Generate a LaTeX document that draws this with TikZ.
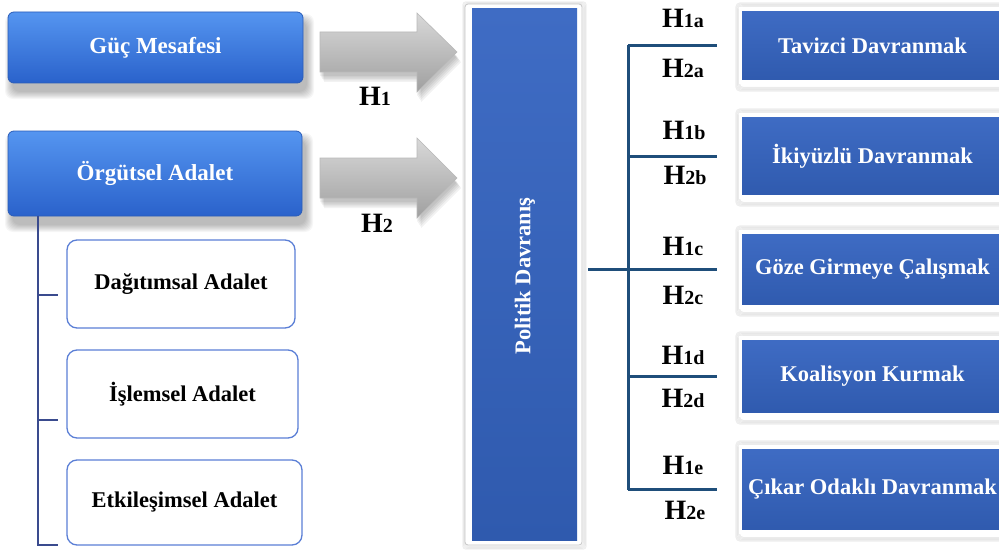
\documentclass[tikz,border=0pt]{standalone}
\usepackage{fontspec}
\setmainfont{Liberation Serif}
\usetikzlibrary{calc}
\definecolor{lbtop}{HTML}{5595F0}
\definecolor{lbbot}{HTML}{2A62CB}
\definecolor{lbedge}{HTML}{2A5CB8}
\definecolor{rbtop}{HTML}{3F6CC4}
\definecolor{rbbot}{HTML}{2F5AAE}
\definecolor{rline}{HTML}{1F4E7A}
\definecolor{lline}{HTML}{3A4B8E}
\definecolor{subedge}{HTML}{5B7FD6}
\newcommand\mysoftshadow[5]{%
  \foreach \k in {0,...,7} {\fill[black, opacity=0.035, rounded corners=#5] ({#1-\k+4},{#2-\k+9}) rectangle ({#3+\k+4},{#4+\k+9});}}
\newcommand\myhyp[1]{{\fontsize{28}{28}\selectfont H}{\fontsize{20}{20}\selectfont #1}}
\tikzset{
  lbox/.style={rounded corners=6pt, top color=lbtop, bottom color=lbbot, draw=lbedge, line width=0.8pt,
    text=white, font=\bfseries\fontsize{23}{23}\selectfont, inner sep=0pt},
  subbox/.style={rounded corners=10pt, fill=white, draw=subedge, line width=1.3pt,
    text=black, font=\bfseries\fontsize{22.5}{22.5}\selectfont, inner sep=0pt},
  rbox/.style={top color=rbtop, bottom color=rbbot, draw=white, line width=3.5pt,
    text=white, font=\bfseries\fontsize{22.5}{22.5}\selectfont, inner sep=0pt, minimum width=264pt},
  hyp/.style={text=black, font=\bfseries, inner sep=0pt},
  rl/.style={draw=rline, line width=3pt},
  ll/.style={draw=lline, line width=1.5pt},
  garrow/.style={top color=gray!30, bottom color=gray!75, draw=gray!55, line width=0.6pt},
}
\begin{document}
\begin{tikzpicture}[x=1pt,y=-1pt]
\useasboundingbox[fill=white] (0,0) rectangle (999,551);
% shadows
\mysoftshadow{8}{12}{303}{83}{8pt}
\mysoftshadow{8}{131}{302}{216}{8pt}
% left boxes
\node[lbox, minimum width=295pt, minimum height=71pt] (guc) at (155.5,47.5) {Güç Mesafesi};
\node[lbox, minimum width=294pt, minimum height=85pt] (org) at (155,173.5) {Örgütsel Adalet};
\node[subbox, minimum width=228pt, minimum height=88pt] (dag) at (181,284) {Dağıtımsal Adalet};
\node[subbox, minimum width=231pt, minimum height=88pt] (isl) at (182.5,394) {İşlemsel Adalet};
\node[subbox, minimum width=235pt, minimum height=85pt] (etk) at (184.5,502.5) {Etkileşimsel Adalet};
% left tree
\coordinate (lt) at (38,216);
\coordinate (l1) at (38,295);
\coordinate (l2) at (38,420);
\coordinate (l3) at (38,545);
\draw[ll] (lt) -- (l3) -- ++(20,0);
\draw[ll] (l1) -- ++(20,0);
\draw[ll] (l2) -- ++(20,0);
% arrows
\foreach \s in {0,0.5,1,1.5,2} {\fill[black, opacity=0.05] ({320+\s*2},{32+\s*3+4}) -- ({417+\s*2},{32+\s*3+4}) -- ({417+\s*2},{13+\s*3+4}) -- ({457+\s*2},{52+\s*3+4}) -- ({417+\s*2},{92+\s*3+4}) -- ({417+\s*2},{72+\s*3+4}) -- ({320+\s*2},{72+\s*3+4}) -- cycle;}
\shade[garrow] (320,32) -- (417,32) -- (417,13) -- (457,52) -- (417,92) -- (417,72) -- (320,72) -- cycle;
\foreach \s in {0,0.5,1,1.5,2} {\fill[black, opacity=0.05] ({320+\s*2},{158+\s*3+4}) -- ({417+\s*2},{158+\s*3+4}) -- ({417+\s*2},{138+\s*3+4}) -- ({457+\s*2},{178+\s*3+4}) -- ({417+\s*2},{218+\s*3+4}) -- ({417+\s*2},{198+\s*3+4}) -- ({320+\s*2},{198+\s*3+4}) -- cycle;}
\shade[garrow] (320,158) -- (417,158) -- (417,138) -- (457,178) -- (417,218) -- (417,198) -- (320,198) -- cycle;
\node[hyp] (h1) at (375,96) {\myhyp{1}};
\node[hyp] (h2) at (377,223) {\myhyp{2}};
% Politik Davranis
\foreach \k in {0,...,4} {\draw[black, opacity=0.06, line width=1pt, rounded corners=3pt] ({465-\k*0.8+1},{4-\k*0.8+1}) rectangle ({582+\k*0.8+1},{545+\k*0.8+1});}
\node[fill=white, draw=gray!45, line width=0.8pt, rounded corners=3pt, minimum width=117pt, minimum height=541pt, inner sep=0pt] (polf) at (523.5,274.5) {};
\node[top color=rbtop, bottom color=rbbot, minimum width=105pt, minimum height=531pt, inner sep=0pt] (pol) at (524.5,274.5) {};
\node[rotate=90, text=white, font=\bfseries\fontsize{22.5}{22.5}\selectfont, inner sep=0pt] (polt) at (525,276) {Politik Davranış};
% right boxes shadows
\foreach \y/\h in {45.5/73, 156/82, 269.5/75, 376.5/77, 489.5/85} {
  \foreach \k in {0,...,4} {\draw[black, opacity=0.07, line width=1pt, rounded corners=4pt] ({738-\k*0.9+1.5},{\y-\h/2-4-\k*0.9+1.5}) rectangle ({1006+\k*0.9},{\y+\h/2+4+\k*0.9+1.5});}
}
\node[rbox, minimum height=73pt] (r1) at (872.5,45.5) {Tavizci Davranmak};
\node[rbox, minimum height=82pt] (r2) at (872.5,156) {İkiyüzlü Davranmak};
\node[rbox, minimum height=75pt] (r3) at (872.5,269.5) {Göze Girmeye Çalışmak};
\node[rbox, minimum height=77pt] (r4) at (872.5,376.5) {Koalisyon Kurmak};
\node[rbox, minimum height=85pt] (r5) at (872.5,489.5) {Çıkar Odaklı Davranmak};
% right tree
\coordinate (pj) at ($(polf.east |- r3.west)+(6,0)$);
\coordinate (j) at (628,269.5);
\draw[rl] (r1.west -| j) -- (r5.west -| j);
\draw[rl] (pj) -- ([xshift=-22pt]r3.west);
\foreach \r in {r1,r2,r4,r5} {\draw[rl] (\r.west -| j) -- ([xshift=-22pt]\r.west);}
% hypothesis labels
\node[hyp] (h1a) at (683,18) {\myhyp{1a}};
\node[hyp] (h2a) at (683,68) {\myhyp{2a}};
\node[hyp] (h1b) at (684,130) {\myhyp{1b}};
\node[hyp] (h2b) at (685,175) {\myhyp{2b}};
\node[hyp] (h1c) at (683,246) {\myhyp{1c}};
\node[hyp] (h2c) at (683,295) {\myhyp{2c}};
\node[hyp] (h1d) at (683,355) {\myhyp{1d}};
\node[hyp] (h2d) at (683,398) {\myhyp{2d}};
\node[hyp] (h1e) at (683,465) {\myhyp{1e}};
\node[hyp] (h2e) at (685,510) {\myhyp{2e}};
\end{tikzpicture}
\end{document}
